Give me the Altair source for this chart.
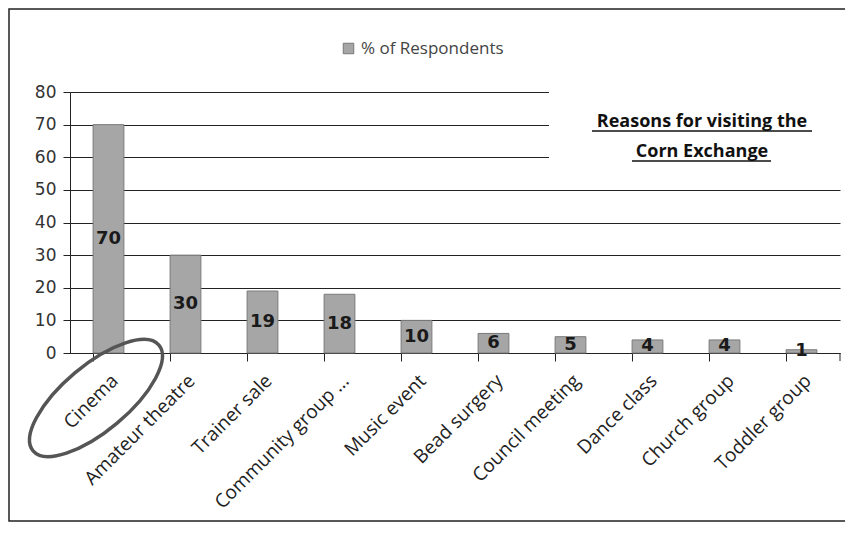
import altair as alt
import pandas as pd

categories = ["Cinema", "Amateur theatre", "Trainer sale", "Community group ...",
              "Music event", "Bead surgery", "Council meeting", "Dance class",
              "Church group", "Toddler group"]
values = [70, 30, 19, 18, 10, 6, 5, 4, 4, 1]
series_name = "% of Respondents"
y_ticks = [0, 10, 20, 30, 40, 50, 60, 70, 80]
title_line1 = "Reasons for visiting the"
title_line2 = "Corn Exchange"

df = pd.DataFrame({"category": categories, "value": values,
                   "series": [series_name] * len(categories)})
df["mid"] = df["value"] / 2

W, H = 770, 261
FONT = "Open Sans"

x_enc = alt.X("category:N", sort=categories, title=None,
              scale=alt.Scale(paddingInner=0.6, paddingOuter=0.3),
              axis=alt.Axis(labelAngle=-45, labelFont=FONT, labelFontSize=19,
                            labelColor="#222", labelPadding=10, bandPosition=0,
                            tickSize=8, tickColor="#222", domainColor="#222",
                            labelLimit=300))
y_scale = alt.Scale(domain=[0, 80], nice=False)
y_axis = alt.Axis(values=y_ticks, labelFont="DejaVu Sans", labelFontSize=17,
                  labelColor="#333", labelPadding=7, tickSize=7, labelOverlap=False,
                  tickColor="#222", domainColor="#222", gridColor="#222",
                  gridWidth=1, grid=True)

base = alt.Chart(df)

bars = base.mark_bar(stroke="#7a7a7a", strokeWidth=1).encode(
    x=x_enc,
    y=alt.Y("value:Q", scale=y_scale, title=None, axis=y_axis),
    color=alt.Color("series:N", scale=alt.Scale(range=["#a6a6a6"]),
                    legend=alt.Legend(orient="none", legendX=270, legendY=-52,
                                      title=None, symbolType="square",
                                      symbolSize=110, symbolStrokeColor="#777",
                                      symbolStrokeWidth=1, labelFont=FONT,
                                      labelFontSize=17, labelColor="#444")),
)

labels = base.mark_text(font="DejaVu Sans", fontSize=18, fontWeight="bold",
                        color="#1a1a1a").encode(
    x=alt.X("category:N", sort=categories),
    y=alt.Y("mid:Q", scale=y_scale, title=None, axis=y_axis),
    text=alt.Text("value:Q"),
)

one = pd.DataFrame({"a": [0]})

# closing tick at the right end of the category axis
end_tick = alt.Chart(one).mark_rule(color="#222", strokeWidth=1).encode(
    x=alt.value(W), y=alt.value(H), y2=alt.value(H + 8))

# white box behind the title (covers gridlines like the Excel text box)
box = alt.Chart(one).mark_rect(color="white").encode(
    x=alt.value(479), x2=alt.value(772), y=alt.value(-10), y2=alt.value(84))

t1 = alt.Chart(one).mark_text(font=FONT, fontSize=18, fontWeight="bold",
                              color="#111", baseline="alphabetic").encode(
    x=alt.value(632), y=alt.value(35), text=alt.value(title_line1))
t2 = alt.Chart(one).mark_text(font=FONT, fontSize=18, fontWeight="bold",
                              color="#111", baseline="alphabetic").encode(
    x=alt.value(632), y=alt.value(65), text=alt.value(title_line2))
u1 = alt.Chart(one).mark_rule(color="#111", strokeWidth=1.5).encode(
    x=alt.value(522), x2=alt.value(742), y=alt.value(39))
u2 = alt.Chart(one).mark_rule(color="#111", strokeWidth=1.5).encode(
    x=alt.value(562), x2=alt.value(701), y=alt.value(69))

# hand-drawn ellipse around "Cinema"
ellipse = alt.Chart(one).mark_point(
    shape="M-1,0 A1,0.4 0 1,1 1,0 A1,0.4 0 1,1 -1,0 Z",
    size=27000, angle=320, filled=False, stroke="#555", strokeWidth=3.5,
    opacity=1).encode(x=alt.value(26), y=alt.value(306))

# outer chart border (right edge lies beyond the picture)
border = alt.Chart(one).mark_rect(fill=None, stroke="#222", strokeWidth=1.5).encode(
    x=alt.value(-61), x2=alt.value(800), y=alt.value(-83), y2=alt.value(429))

chart = alt.layer(bars, labels, end_tick, box, t1, t2, u1, u2, ellipse, border).properties(
    width=W, height=H,
    autosize=alt.AutoSizeParams(type="none"),
    padding={"left": 62, "top": 84, "right": 5, "bottom": 171},
).configure(background="white").configure_view(strokeWidth=0)

chart.save("out.html", embed_options={"renderer": "svg", "actions": False})
